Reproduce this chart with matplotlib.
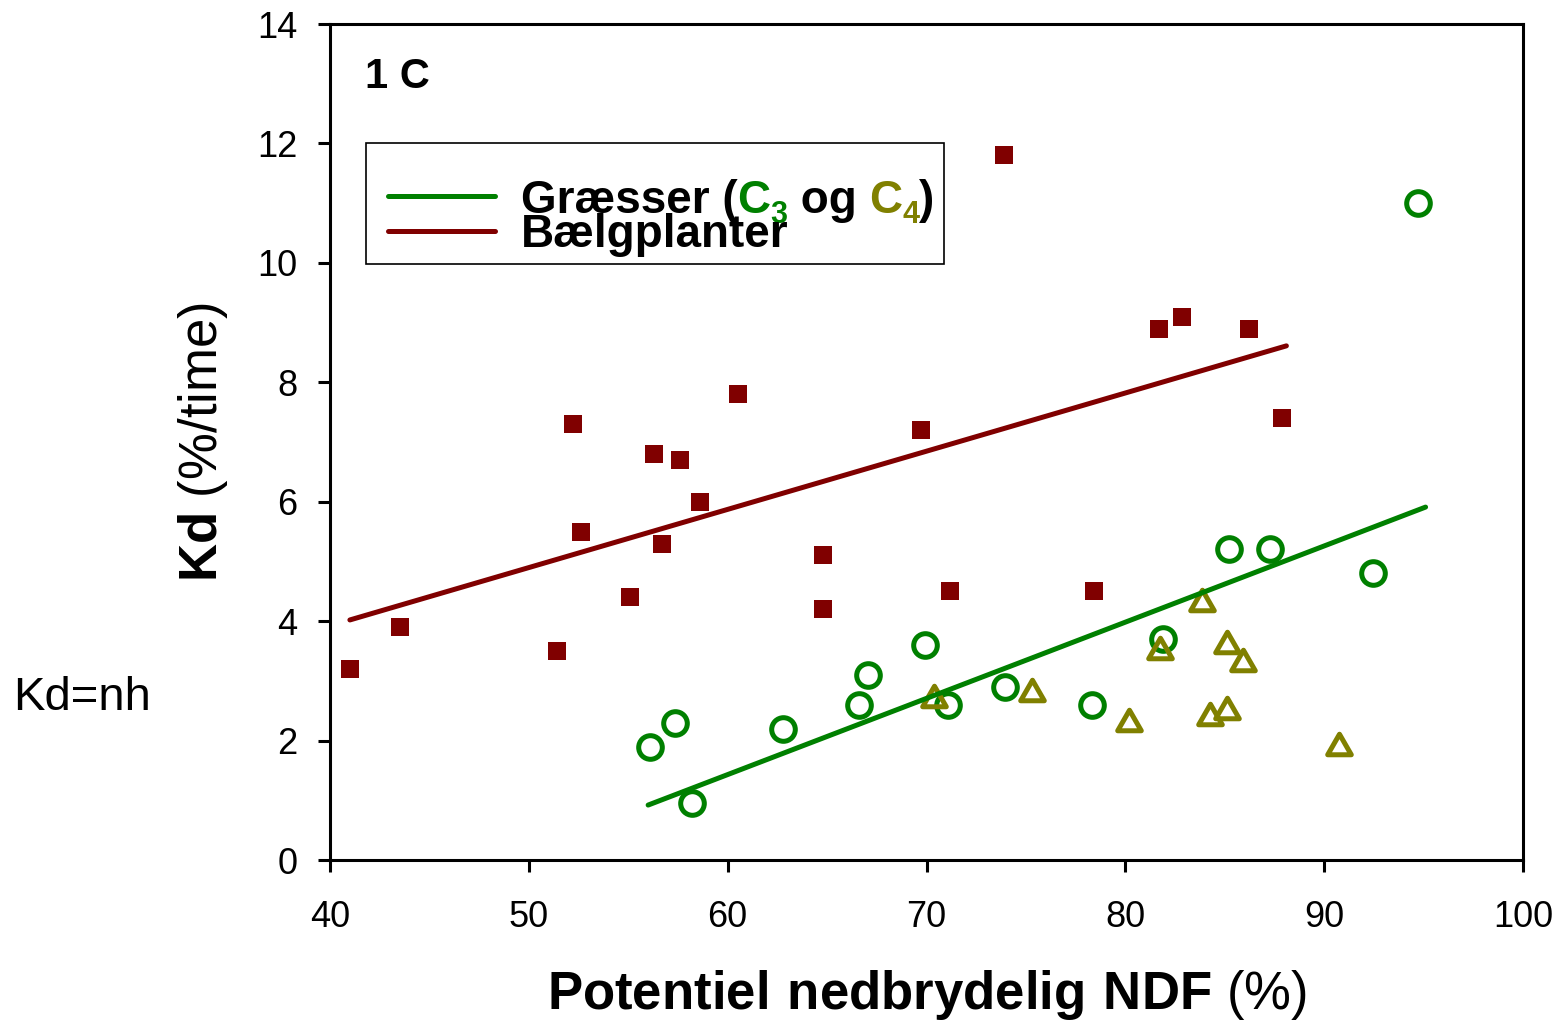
import matplotlib
matplotlib.use("Agg")
import matplotlib.pyplot as plt
import matplotlib.transforms as mtransforms
from matplotlib.path import Path
from matplotlib.patches import Rectangle
from matplotlib.lines import Line2D
import numpy as np

plt.rcParams["font.family"] = ["Liberation Sans", "DejaVu Sans"]
plt.rcParams["mathtext.fontset"] = "custom"
plt.rcParams["mathtext.rm"] = "Liberation Sans"
plt.rcParams["mathtext.bf"] = "Liberation Sans:bold"

# Bælgplanter (legumes)
leg_x = [41.0, 43.5, 51.4, 52.2, 52.6, 55.1, 56.3, 56.7, 57.6, 58.6, 60.5,
         64.8, 64.8, 69.7, 71.2, 73.9, 78.4, 81.7, 82.85, 86.2, 87.9]
leg_y = [3.2, 3.9, 3.5, 7.3, 5.5, 4.4, 6.8, 5.3, 6.7, 6.0, 7.8,
         5.1, 4.2, 7.2, 4.5, 11.8, 4.5, 8.9, 9.1, 8.9, 7.4]

# C3 grasses
c3_x = [56.1, 57.35, 58.2, 62.8, 66.6, 67.05, 69.9, 71.1, 73.95, 78.3,
        81.9, 85.2, 87.3, 92.45, 94.7]
c3_y = [1.9, 2.3, 0.95, 2.2, 2.6, 3.1, 3.6, 2.6, 2.9, 2.6,
        3.7, 5.2, 5.2, 4.8, 11.0]

# C4 grasses
c4_x = [70.4, 75.3, 80.2, 81.75, 83.85, 84.25, 85.1, 85.1, 85.9, 90.75]
c4_y = [2.75, 2.85, 2.35, 3.55, 4.35, 2.45, 2.55, 3.65, 3.35, 1.95]

# Regression lines: (x start, x end) and (y start, y end)
leg_fit_x = [41.0, 88.1]
leg_fit_y = [4.02, 8.61]
grass_fit_x = [56.0, 95.1]
grass_fit_y = [0.92, 5.91]

x_ticks = [40, 50, 60, 70, 80, 90, 100]
y_ticks = [0, 2, 4, 6, 8, 10, 12, 14]

GREEN = "#008000"
MAROON = "#800000"
OLIVE = "#808000"

fig = plt.figure(figsize=(15.62, 10.25), dpi=100)
ax = fig.add_axes([330 / 1562, 165 / 1025, 1193 / 1562, 836 / 1025])

# slightly flattened triangle marker
tri = Path([(0, 0.87), (-1, -0.87), (1, -0.87), (0, 0.87)],
           [Path.MOVETO, Path.LINETO, Path.LINETO, Path.CLOSEPOLY])

ax.plot(leg_x, leg_y, linestyle="none", marker="s", markersize=13.5,
        color=MAROON, markeredgewidth=0, zorder=3)
ax.plot(c3_x, c3_y, linestyle="none", marker="o", markersize=17,
        markerfacecolor="none", markeredgecolor=GREEN, markeredgewidth=3.6, zorder=3)
ax.plot(c4_x, c4_y, linestyle="none", marker=tri, markersize=17,
        markerfacecolor="none", markeredgecolor=OLIVE, markeredgewidth=3.6, zorder=3)

ax.plot(leg_fit_x, leg_fit_y, color=MAROON, linewidth=3.6,
        solid_capstyle="round", zorder=4)
ax.plot(grass_fit_x, grass_fit_y, color=GREEN, linewidth=3.6,
        solid_capstyle="round", zorder=4)

ax.set_xlim(40, 100)
ax.set_ylim(0, 14)
ax.set_xticks(x_ticks)
ax.set_yticks(y_ticks)
ax.tick_params(direction="out", length=8.6, width=2.2, labelsize=26)
ax.tick_params(axis="x", pad=20)
ax.tick_params(axis="y", pad=15)
for s in ax.spines.values():
    s.set_linewidth(2.2)

ax.set_xlabel(r"$\mathbf{Potentiel\ nedbrydelig\ NDF}$ (%)", fontsize=38, labelpad=24)
ax.set_ylabel(r"$\mathbf{Kd}$ (%/time)", fontsize=38, labelpad=19)

ax.text(0.0293, 0.9234, "1 C", transform=ax.transAxes, fontsize=30,
        fontweight="bold", va="baseline", ha="left")

fig.text(13 / 1562, (1025 - 710) / 1025, "Kd=nh", fontsize=34,
         va="baseline", ha="left")

# Legend box drawn by hand so the C3 / C4 labels can carry their own colours
ax.add_patch(Rectangle((0.0302, 0.7129), 0.4845, 0.1448, transform=ax.transAxes,
                       facecolor="white", edgecolor="black", linewidth=1.2, zorder=5))
ax.add_line(Line2D([0.0486, 0.1383], [0.7943, 0.7943], transform=ax.transAxes,
                   color=GREEN, linewidth=3.6, solid_capstyle="round", zorder=6))
ax.add_line(Line2D([0.0486, 0.1383], [0.7524, 0.7524], transform=ax.transAxes,
                   color=MAROON, linewidth=3.6, solid_capstyle="round", zorder=6))

fig.canvas.draw()
renderer = fig.canvas.get_renderer()

pieces = [("Græsser (", "black", 33, 0),
          ("C", GREEN, 33, 0),
          ("3", GREEN, 22, -10),
          (" og ", "black", 33, 0),
          ("C", OLIVE, 33, 0),
          ("4", OLIVE, 22, -10),
          (")", "black", 33, 0)]
trans = ax.transAxes
x_off = 0.0
for txt, col, size, dy in pieces:
    t = ax.text(0.1601, 0.7739, txt, color=col, fontsize=size, fontweight="bold",
                va="baseline", ha="left", zorder=7,
                transform=mtransforms.offset_copy(trans, fig=fig, x=x_off, y=dy,
                                                  units="dots"))
    x_off += t.get_window_extent(renderer).width

ax.text(0.1601, 0.7333, "Bælgplanter", color="black", fontsize=33,
        fontweight="bold", va="baseline", ha="left", transform=ax.transAxes, zorder=7)

fig.savefig("out.png", dpi=100)
